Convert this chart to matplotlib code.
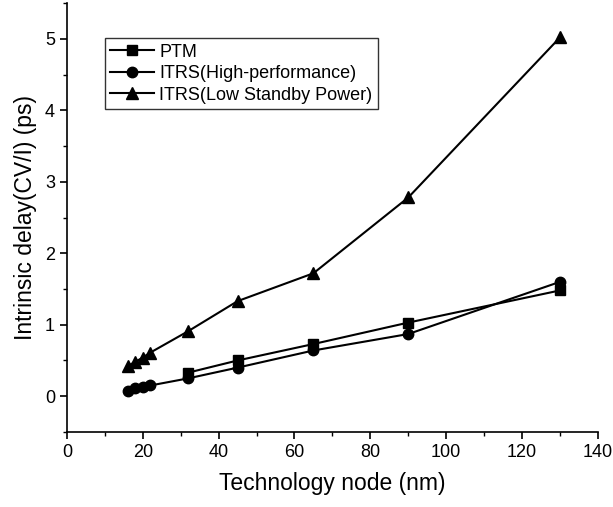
import matplotlib
matplotlib.use("Agg")
import matplotlib.pyplot as plt
from matplotlib.ticker import MultipleLocator

plt.rcParams['font.family'] = ['Liberation Sans', 'DejaVu Sans']

nodes = [16, 18, 20, 22, 32, 45, 65, 90, 130]
ptm_nodes = [32, 45, 65, 90, 130]
ptm = [0.33, 0.50, 0.73, 1.03, 1.48]
itrs_hp = [0.08, 0.11, 0.13, 0.15, 0.25, 0.40, 0.64, 0.87, 1.60]
itrs_lstp = [0.42, 0.48, 0.54, 0.61, 0.91, 1.33, 1.72, 2.78, 5.02]

fig = plt.figure(figsize=(6.13, 5.07), dpi=100)
ax = fig.add_axes([0.109, 0.148, 0.8665, 0.846])

ax.plot(ptm_nodes, ptm, 'k-s', lw=1.5, ms=7, label='PTM')
ax.plot(nodes, itrs_hp, 'k-o', lw=1.5, ms=7.5, label='ITRS(High-performance)')
ax.plot(nodes, itrs_lstp, 'k-^', lw=1.5, ms=8, label='ITRS(Low Standby Power)')

ax.set_xlim(0, 140)
ax.set_ylim(-0.5, 5.5)
ax.xaxis.set_major_locator(MultipleLocator(20))
ax.xaxis.set_minor_locator(MultipleLocator(10))
ax.yaxis.set_major_locator(MultipleLocator(1))
ax.yaxis.set_minor_locator(MultipleLocator(0.5))
ax.spines['top'].set_visible(False)
ax.spines['right'].set_visible(False)
for s in ('left', 'bottom'):
    ax.spines[s].set_linewidth(1.2)
ax.tick_params(which='major', direction='out', length=5, width=1.2, labelsize=13)
ax.tick_params(which='minor', direction='out', length=3, width=1.0)

ax.set_xlabel('Technology node (nm)', fontsize=16.5, labelpad=8)
ax.set_ylabel('Intrinsic delay(CV/I) (ps)', fontsize=16.5, labelpad=6)

leg = ax.legend(loc='upper left', bbox_to_anchor=(0.072, 0.918), fontsize=13,
                frameon=True, fancybox=False, edgecolor='black',
                handlelength=2.4, handletextpad=0.3, borderpad=0.3,
                labelspacing=0.25, borderaxespad=0)
leg.get_frame().set_linewidth(1.0)

fig.savefig('out.png', dpi=100)
